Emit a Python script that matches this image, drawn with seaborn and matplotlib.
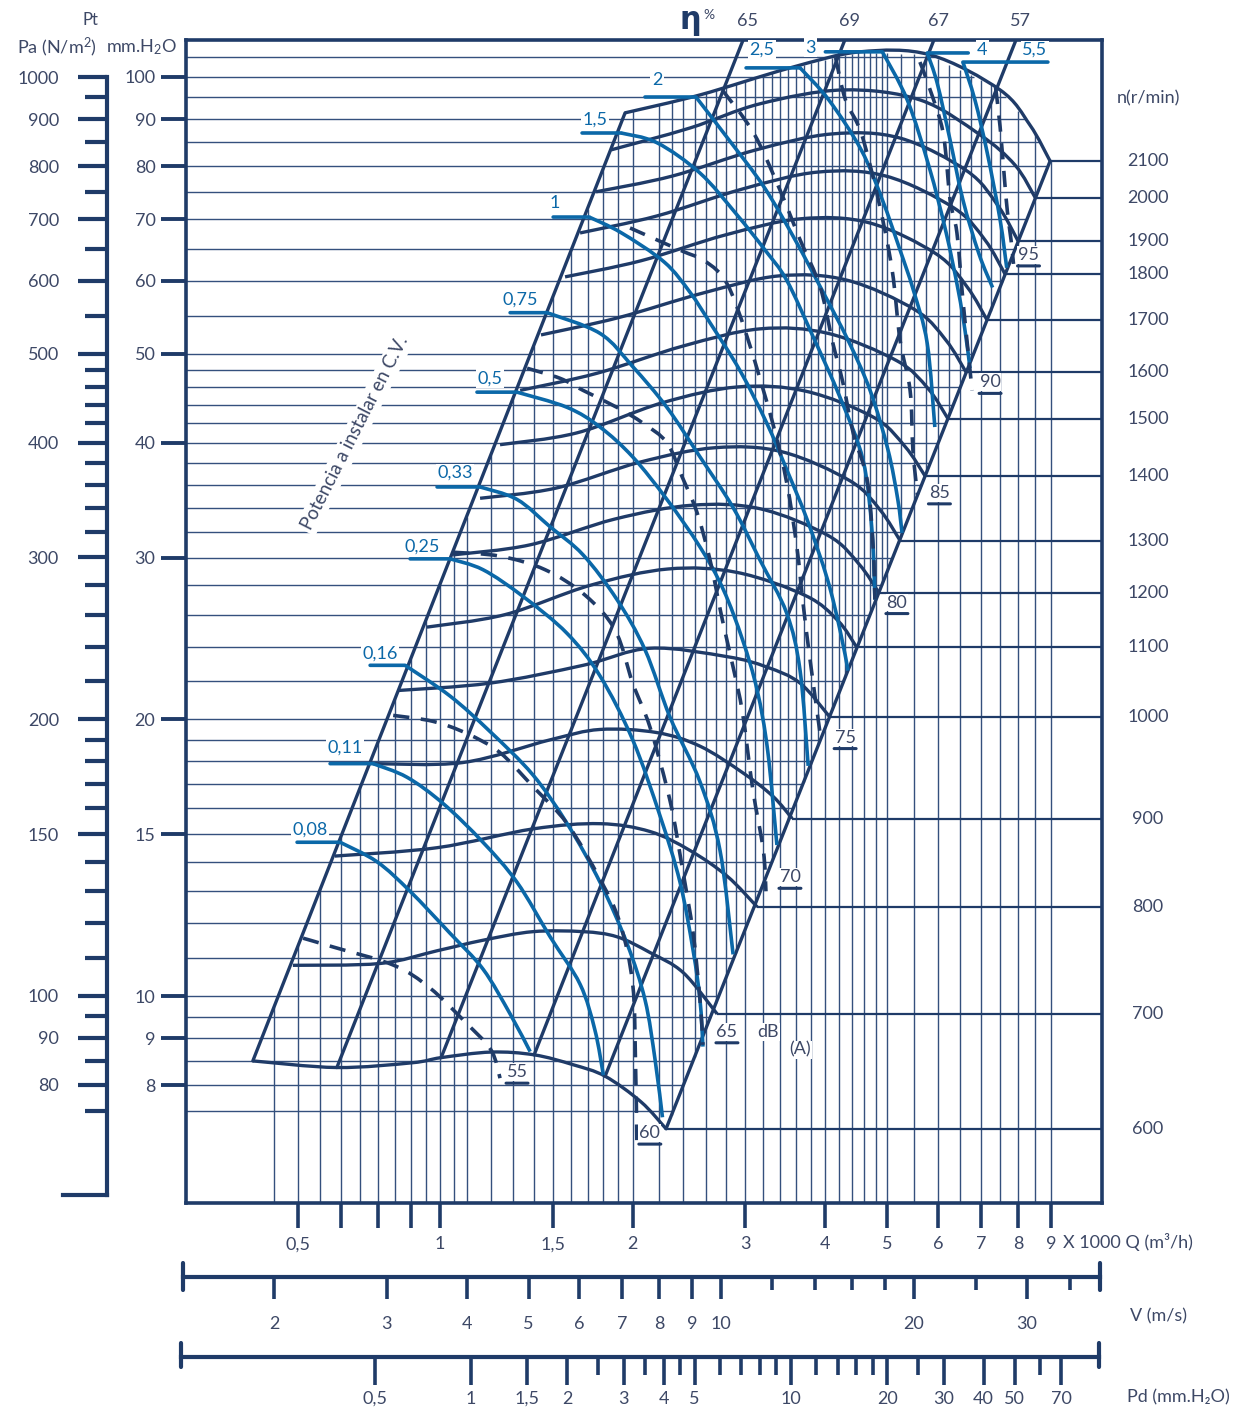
import numpy as np
import pandas as pd
import matplotlib
matplotlib.use("Agg")
import matplotlib.pyplot as plt
from matplotlib.ticker import FixedLocator, NullLocator, FixedFormatter
from matplotlib.transforms import offset_copy
from matplotlib.path import Path
from matplotlib.patches import PathPatch
import seaborn as sns

sns.set_theme(style="white")
plt.rcParams["font.family"] = ["Lato", "DejaVu Sans"]
plt.rcParams["mathtext.default"] = "regular"

NAVY = "#1f3b68"
GRID = "#34507d"
BLUE = "#0b68a8"
INK = "#3d4866"

# ---------------- fan curves: flow Q (x1000 m3/h) vs total pressure (mm H2O)
N600_Q = [0.510, 0.690, 0.904, 1.004, 1.201, 1.403, 1.613, 1.811, 2.061, 2.255]
N600_P = [8.50, 8.36, 8.46, 8.57, 8.69, 8.63, 8.42, 8.18, 7.67, 7.17]
N700_Q = [0.589, 0.806, 0.989, 1.167, 1.397, 1.673, 1.890, 2.129, 2.400, 2.710]
N700_P = [10.8, 10.85, 11.2, 11.5, 11.75, 11.75, 11.6, 11.15, 10.6, 9.56]
N800_Q = [0.685, 0.989, 1.397, 1.778, 2.129, 2.458, 2.810, 3.130]
N800_P = [14.2, 14.5, 15.2, 15.4, 15.1, 14.4, 13.5, 12.5]
N900_Q = [0.786, 1.086, 1.486, 1.778, 2.180, 2.548, 2.970, 3.310, 3.550]
N900_P = [17.9, 17.95, 19.0, 19.5, 19.35, 18.7, 17.5, 16.5, 15.6]
N1000_Q = [0.860, 1.197, 1.673, 2.129, 2.810, 3.240, 3.652, 4.068]
N1000_P = [21.5, 21.9, 22.9, 23.9, 23.4, 22.8, 21.9, 20.1]
N1100_Q = [0.954, 1.263, 1.722, 2.271, 2.911, 3.732, 4.187, 4.470]
N1100_P = [25.2, 26.0, 28.0, 29.15, 28.9, 27.25, 25.6, 24.0]
N1200_Q = [1.048, 1.383, 1.877, 2.476, 3.162, 4.040, 4.516, 4.852]
N1200_P = [30.2, 30.97, 33.04, 34.2, 33.9, 31.7, 29.5, 27.45]
N1300_Q = [1.155, 1.518, 2.054, 2.690, 3.422, 4.372, 4.870, 5.233]
N1300_P = [34.8, 35.7, 38.1, 39.5, 39.1, 36.35, 33.8, 31.3]
N1400_Q = [1.241, 1.637, 2.223, 2.921, 3.732, 4.765, 5.330, 5.725]
N1400_P = [39.8, 41.0, 44.2, 46.0, 45.5, 42.6, 39.6, 36.8]
N1500_Q = [1.334, 1.759, 2.397, 3.162, 4.040, 5.177, 5.789, 6.220]
N1500_P = [45.6, 47.6, 50.96, 53.2, 52.6, 49.1, 45.8, 42.45]
N1600_Q = [1.438, 1.897, 2.576, 3.386, 4.324, 5.523, 6.173, 6.633]
N1600_P = [52.4, 54.7, 58.2, 60.75, 60.1, 55.8, 51.7, 47.75]
N1700_Q = [1.568, 2.061, 2.788, 3.665, 4.680, 5.957, 6.660, 7.154]
N1700_P = [60.6, 63.1, 67.3, 70.1, 69.4, 64.2, 59.1, 54.4]
N1800_Q = [1.655, 2.183, 2.964, 3.896, 4.977, 6.356, 7.105, 7.636]
N1800_P = [67.65, 70.6, 75.5, 78.8, 78.0, 72.0, 66.45, 61.0]
N1900_Q = [1.753, 2.304, 3.116, 4.098, 5.233, 6.660, 7.445, 8.000]
N1900_P = [75.0, 78.0, 83.3, 86.7, 85.8, 79.0, 72.4, 66.3]
N2000_Q = [1.850, 2.458, 3.162, 4.264, 5.623, 6.978, 7.912, 8.510]
N2000_P = [83.3, 88.0, 93.5, 96.8, 94.4, 86.5, 80.2, 73.9]
N2100_Q = [1.946, 2.548, 3.523, 4.532, 5.829, 7.499, 8.354, 8.977]
N2100_P = [91.4, 95.6, 102.3, 106.5, 105.7, 96.8, 88.6, 81.0]

SPEEDS = [600, 700, 800, 900, 1000, 1100, 1200, 1300, 1400, 1500,
          1600, 1700, 1800, 1900, 2000, 2100]

# ---------------- constant-efficiency lines (efficiency %, lower and upper ends)
EFF_LABELS = ["", "65", "69", "67", "57", ""]
EFF_Q_LOW = [0.510, 0.690, 1.004, 1.403, 1.811, 2.255]
EFF_P_LOW = [8.50, 8.36, 8.57, 8.63, 8.18, 7.17]
EFF_Q_HIGH = [1.946, 2.975, 4.29, 5.91, 7.94, 8.977]
EFF_P_HIGH = [91.4, 109.7, 109.7, 109.7, 109.7, 81.0]

# ---------------- power to install (C.V.)
CV_LABELS = ["0,08", "0,11", "0,16", "0,25", "0,33", "0,5", "0,75",
             "1", "1,5", "2", "2,5", "3", "4", "5,5"]
CV008_Q = [0.698, 0.797, 0.898, 1.037, 1.167, 1.287, 1.383]
CV008_P = [14.7, 14.0, 13.0, 11.7, 10.7, 9.56, 8.70]
CV011_Q = [0.786, 0.888, 1.011, 1.167, 1.319, 1.486, 1.655, 1.746, 1.800]
CV011_P = [17.9, 17.3, 16.2, 14.7, 13.3, 11.6, 10.3, 9.18, 8.20]
CV016_Q = [0.882, 1.037, 1.197, 1.397, 1.580, 1.778, 1.960, 2.091, 2.168, 2.226]
CV016_P = [22.9, 21.2, 19.4, 17.4, 15.4, 13.3, 11.4, 9.90, 8.52, 7.38]
CV025_Q = [1.037, 1.167, 1.349, 1.580, 1.778, 2.000, 2.207, 2.371, 2.486, 2.548, 2.575]
CV025_P = [29.9, 29.1, 27.2, 24.8, 22.3, 19.0, 15.7, 13.3, 11.2, 9.90, 8.81]
CV033_Q = [1.155, 1.319, 1.486, 1.673, 1.890, 2.091, 2.288, 2.548, 2.738, 2.870]
CV033_P = [35.8, 34.7, 32.4, 30.2, 27.0, 23.8, 20.1, 17.1, 14.4, 11.1]
CV05_Q = [1.319, 1.580, 1.778, 2.000, 2.262, 2.548, 2.770, 2.970, 3.130, 3.250, 3.360]
CV05_P = [45.4, 43.7, 41.6, 38.6, 34.7, 30.8, 27.7, 24.4, 21.5, 18.5, 14.6]
CV075_Q = [1.470, 1.778, 2.000, 2.262, 2.548, 2.870, 3.162, 3.480, 3.652, 3.760]
CV075_P = [55.4, 52.6, 48.4, 43.7, 38.6, 34.0, 29.8, 26.1, 22.6, 17.8]
CV1_Q = [1.710, 1.918, 2.240, 2.458, 2.642, 2.943, 3.240, 3.480, 3.745, 4.030, 4.217, 4.340]
CV1_P = [70.4, 67.7, 62.9, 58.3, 54.0, 47.9, 42.0, 37.4, 33.0, 28.4, 25.0, 22.6]
CV15_Q = [1.918, 2.183, 2.548, 2.900, 3.220, 3.480, 3.830, 4.217, 4.580, 4.730, 4.780]
CV15_P = [86.9, 84.8, 78.6, 71.0, 64.8, 60.1, 52.1, 44.8, 38.3, 32.1, 27.0]
CV2_Q = [2.511, 2.828, 3.208, 3.587, 3.953, 4.340, 4.698, 5.010, 5.190, 5.270]
CV2_P = [95.1, 85.4, 75.9, 66.5, 58.6, 51.7, 45.6, 39.3, 34.7, 31.9]
CV25_Q = [3.652, 4.050, 4.550, 4.910, 5.233, 5.490, 5.770, 5.930]
CV25_P = [102.3, 94.4, 83.3, 73.5, 64.8, 58.6, 51.3, 41.6]
CV3_Q = [4.910, 5.370, 5.810, 6.170, 6.450, 6.610, 6.730]
CV3_P = [106.5, 94.4, 79.8, 67.9, 58.6, 53.0, 48.2]
CV4_Q = [5.770, 5.980, 6.264, 6.560, 6.950, 7.300]
CV4_P = [106.2, 98.5, 85.4, 73.5, 64.2, 59.0]
CV55_Q = [6.560, 6.850, 7.160, 7.500, 7.680]
CV55_P = [103.8, 94.4, 82.7, 69.9, 62.0]

# ---------------- sound level dB(A)
DB_LABELS = ["55", "60", "65", "70", "75", "80", "85", "90", "95"]
DB55_Q = [0.611, 0.683, 0.847, 0.965, 1.098, 1.201, 1.241]
DB55_P = [11.56, 11.3, 10.8, 10.2, 9.35, 8.74, 8.14]
DB60_Q = [0.845, 0.975, 1.102, 1.241, 1.397, 1.580, 1.778, 1.911, 2.000, 2.020, 2.030]
DB60_P = [20.2, 19.9, 19.3, 18.4, 16.9, 15.4, 13.4, 12.0, 10.3, 8.52, 6.97]
DB65_Q = [1.048, 1.241, 1.459, 1.685, 1.878, 2.000, 2.129, 2.288, 2.390, 2.486, 2.548, 2.575]
DB65_P = [30.4, 30.1, 29.1, 27.3, 25.0, 21.9, 19.6, 16.3, 13.8, 11.7, 9.90, 8.85]
DB70_Q = [1.368, 1.540, 1.673, 1.890, 2.076, 2.262, 2.390, 2.520, 2.642, 2.760, 2.870, 2.970, 3.080, 3.200, 3.230]
DB70_P = [48.2, 47.0, 45.6, 43.7, 42.0, 40.0, 36.7, 33.6, 29.8, 25.7, 22.8, 20.3, 16.8, 14.4, 13.0]
DB75_Q = [1.981, 2.371, 2.598, 2.807, 3.020, 3.310, 3.480, 3.610, 3.690, 3.786, 3.925]
DB75_P = [68.5, 64.8, 63.0, 59.6, 52.1, 42.0, 36.2, 30.8, 26.8, 23.2, 19.3]
DB80_Q = [2.760, 3.090, 3.398, 3.652, 3.925, 4.110, 4.260, 4.420, 4.650, 4.750, 4.780]
DB80_P = [96.8, 86.9, 75.3, 66.5, 59.1, 51.3, 46.5, 41.0, 36.4, 30.8, 27.0]
DB85_Q = [4.150, 4.300, 4.550, 4.840, 5.085, 5.233, 5.425, 5.480, 5.570]
DB85_P = [104.9, 94.4, 86.9, 73.5, 61.7, 51.7, 45.6, 39.3, 35.1]
DB90_Q = [5.620, 5.810, 6.110, 6.264, 6.420, 6.560, 6.680, 6.780]
DB90_P = [103.8, 97.5, 86.9, 73.5, 67.7, 57.2, 50.5, 45.6]
DB95_Q = [7.380, 7.500, 7.620, 7.700, 7.800, 7.870]
DB95_P = [97.3, 88.2, 77.3, 71.3, 66.5, 62.6]

# ---------------- scales
Q_TICKS = [0.6, 0.7, 0.8, 0.9, 1, 1.5, 2, 3, 4, 5, 6, 7, 8, 9]
Q_TICK_LABELS = ["0,5", "", "", "", "1", "1,5", "2", "3", "4", "5", "6", "7", "8", "9"]
MM_TICKS = [8, 9, 10, 15, 20, 30, 40, 50, 60, 70, 80, 90, 100]
PA_TICKS = [80, 90, 100, 150, 200, 300, 400, 500, 600, 700, 800, 900, 1000]
PA_MINOR = [75, 85, 95, 110, 120, 130, 140, 160, 170, 180, 190, 220, 240, 260, 280,
            320, 340, 360, 380, 420, 440, 460, 480, 550, 650, 750, 850, 950]
V_TICKS = [2, 3, 4, 5, 6, 7, 8, 9, 10, 20, 30]
V_MINOR = [12, 14, 16, 18, 25, 35]
PD_TICKS = [0.5, 1, 1.5, 2, 3, 4, 5, 10, 20, 30, 40, 50, 70]
PD_TICK_LABELS = ["0,5", "1", "1,5", "2", "3", "4", "5", "10", "20", "30", "40", "50", "70"]
PD_MINOR = [2.5, 3.5, 4.5, 6, 7, 8, 9, 12, 14, 16, 18, 25, 60]

P_GRID = [105, 100, 95, 90, 85, 80, 75, 70, 65, 60, 55, 50, 48, 46, 44, 42, 40, 38, 36,
          34, 32, 30, 28, 26, 24, 22, 20, 19, 18, 17, 16, 15, 14, 13, 12, 11, 10,
          9.5, 9, 8.5, 8, 7.5]
Q_GRID = [0.55, 0.6, 0.65, 0.7, 0.75, 0.8, 0.85, 0.9, 0.95, 1.0, 1.05,
          1.1, 1.2, 1.3, 1.4, 1.5, 1.6, 1.7, 1.8, 1.9, 2.0,
          2.2, 2.4, 2.6, 2.8, 3.0, 3.2, 3.4, 3.6, 3.8, 4.0, 4.2, 4.4, 4.6, 4.8, 5.0,
          5.5, 6.0, 6.5, 7.0, 7.5, 8.0, 8.5, 9.0]
Q_GRID_INNER = [2.3, 2.5, 2.7, 2.9, 3.1, 3.3, 3.5, 3.7, 3.9, 4.1, 4.3, 4.5, 4.7, 4.9,
                5.25, 5.75, 6.25, 6.75, 7.25]

# ---------------- figure layout
W, H = 1244, 1407
fig = plt.figure(figsize=(W / 100, H / 100), dpi=100)
fig.patch.set_facecolor("white")
K = 0.72  # points per pixel at 100 dpi


def box(x0, y0, x1, y1):
    return [x0 / W, 1 - y1 / H, (x1 - x0) / W, (y1 - y0) / H]


ax = fig.add_axes(box(186, 40, 1102, 1203))
ax.set_xscale("log")
ax.set_yscale("log")
XMIN, XMAX = 0.401, 10.82
YMIN, YMAX = 5.954, 109.7
ax.set_xlim(XMIN, XMAX)
ax.set_ylim(YMIN, YMAX)
ax.set_facecolor("white")


def loginterp(x, xs, ys):
    return 10 ** np.interp(np.log10(x), np.log10(xs), np.log10(ys))


def smooth_curve(q, p, color, lw, ls="-", z=3):
    """Draw a smooth stroke through the given points (cubic segments on the log axes)."""
    pts = np.column_stack([np.log10(q), np.log10(p)])
    n = len(pts)
    verts, codes = [pts[0]], [Path.MOVETO]
    for i in range(n - 1):
        p0 = pts[i - 1] if i > 0 else pts[i]
        p1, p2 = pts[i], pts[i + 1]
        p3 = pts[i + 2] if i + 2 < n else pts[i + 1]
        verts += [p1 + (p2 - p0) / 6.0, p2 - (p3 - p1) / 6.0, p2]
        codes += [Path.CURVE4] * 3
    path = Path(10 ** np.array(verts), codes)
    ax.add_patch(PathPatch(path, fill=False, edgecolor=color, lw=lw, linestyle=ls,
                           joinstyle="round", capstyle="butt", zorder=z))


def offset_segment(q, p, a, b, color, lw):
    """Short decoration stroke between two pixel offsets from a data point."""
    t1 = offset_copy(ax.transData, fig=fig, x=a[0] * K, y=a[1] * K, units="points")
    t2 = offset_copy(ax.transData, fig=fig, x=b[0] * K, y=b[1] * K, units="points")
    ax.annotate("", xy=(q, p), xycoords=t1, xytext=(q, p), textcoords=t2,
                arrowprops=dict(arrowstyle="-", color=color, lw=lw, shrinkA=0, shrinkB=0),
                annotation_clip=False, zorder=5)


fan_q = [globals()[f"N{n}_Q"] for n in SPEEDS]
fan_p = [globals()[f"N{n}_P"] for n in SPEEDS]

# envelopes of the operating field
top_q = [N600_Q[0]] + N2100_Q
top_p = [N600_P[0]] + N2100_P
peak = int(np.argmax(N2100_P))
right_p = [N600_P[-1]] + N2100_P[peak:][::-1]
right_q = [N600_Q[-1]] + N2100_Q[peak:][::-1]
d5_q = [EFF_Q_LOW[-1], EFF_Q_HIGH[-1]]
d5_p = [EFF_P_LOW[-1], EFF_P_HIGH[-1]]

# grid
for p in P_GRID:
    ax.hlines(p, XMIN, loginterp(p, right_p, right_q), color=GRID, lw=1.0, zorder=1)
for q in Q_GRID:
    ax.vlines(q, YMIN, loginterp(q, top_q, top_p), color=GRID, lw=1.0, zorder=1)
for q in Q_GRID_INNER:
    ax.vlines(q, loginterp(q, d5_q, d5_p), loginterp(q, top_q, top_p), color=GRID, lw=1.0, zorder=1)

# speed curves and their lines towards the right-hand scale
for n, q, p in zip(SPEEDS, fan_q, fan_p):
    ax.hlines(p[-1], q[-1], XMAX, color=NAVY, lw=1.6, zorder=2)
    ax.annotate(str(n), xy=(1.0, p[-1]), xycoords=("axes fraction", "data"),
                xytext=(33, 0), textcoords="offset points", ha="center", va="center",
                fontsize=13, color=INK)
    smooth_curve(q, p, NAVY, 2.4)

# efficiency lines
eff_df = pd.concat([pd.DataFrame({"Q": [a, b], "P": [c, d], "k": i})
                    for i, (a, b, c, d) in enumerate(zip(EFF_Q_LOW, EFF_Q_HIGH, EFF_P_LOW, EFF_P_HIGH))],
                   ignore_index=True)
sns.lineplot(data=eff_df, x="Q", y="P", units="k", estimator=None, sort=False,
             color=NAVY, lw=2.4, ax=ax, legend=False, zorder=3)
for lab, q in zip(EFF_LABELS, EFF_Q_HIGH):
    if lab:
        ax.annotate(lab, xy=(q, YMAX), xytext=(3, 14), textcoords="offset points",
                    ha="center", va="center", fontsize=13, color=INK, annotation_clip=False)

# power lines
cv_names = ["CV008", "CV011", "CV016", "CV025", "CV033", "CV05", "CV075",
            "CV1", "CV15", "CV2", "CV25", "CV3", "CV4", "CV55"]
cv_q = [globals()[c + "_Q"] for c in cv_names]
cv_p = [globals()[c + "_P"] for c in cv_names]
for q, p in zip(cv_q, cv_p):
    smooth_curve(q, p, BLUE, 2.6, z=4)

tab_px = [-43, -43, -35, -40, -43, -40, -37, -36, -39, -51, -54, -57, 41, 85]
text_px = [(-30, 13), (-28, 16), (-25, 12), (-28, 12), (-25, 14), (-27, 14), (-27, 13),
           (-34, 14), (-26, 13), (-39, 17), (-38, 18), (-72, 4), (55, 3), (72, 12)]
for lab, q, p, t, (dx, dy) in zip(CV_LABELS, cv_q, cv_p, tab_px, text_px):
    offset_segment(q[0], p[0], (0, 0), (t, 0), BLUE, 2.6)
    ax.annotate(lab, xy=(q[0], p[0]), xytext=(dx * K, dy * K), textcoords="offset points",
                ha="center", va="center", fontsize=13, color=BLUE, zorder=5,
                bbox=dict(boxstyle="square,pad=0.08", fc="white", ec="none"))

# noise lines
db_q = [globals()[f"DB{d}_Q"] for d in DB_LABELS]
db_p = [globals()[f"DB{d}_P"] for d in DB_LABELS]
for q, p in zip(db_q, db_p):
    smooth_curve(q, p, NAVY, 2.6, ls=(0, (4.5, 3.2)), z=4)
db_off = [(17, 6), (13, 7), (24, 13), (24, 14), (25, -4), (22, -3), (22, 2), (18, 8), (15, 9)]
for lab, q, p, (dx, dy) in zip(DB_LABELS, db_q, db_p, db_off):
    ax.annotate(lab, xy=(q[-1], p[-1]), xytext=(dx * K, dy * K), textcoords="offset points",
                ha="center", va="center", fontsize=13, color=INK, zorder=5,
                bbox=dict(boxstyle="square,pad=0.05", fc="white", ec="none"))
    offset_segment(q[-1], p[-1], (dx - 11, dy - 11), (dx + 11, dy - 11), NAVY, 2.2)
ax.annotate("dB", xy=(DB65_Q[-1], DB65_P[-1]), xytext=(65 * K, 13 * K), textcoords="offset points",
            ha="center", va="center", fontsize=13, color=INK,
            bbox=dict(boxstyle="square,pad=0.05", fc="white", ec="none"))
ax.annotate("(A)", xy=(DB65_Q[-1], DB65_P[-1]), xytext=(97 * K, -5 * K), textcoords="offset points",
            ha="center", va="center", fontsize=13, color=INK,
            bbox=dict(boxstyle="square,pad=0.05", fc="white", ec="none"))

ax.text((355 - 186) / 916, (1203 - 433) / 1163, "Potencia a instalar en C.V.",
        transform=ax.transAxes, rotation=63, ha="center", va="center", fontsize=13.5,
        color=INK, bbox=dict(boxstyle="square,pad=0.15", fc="white", ec="none"), zorder=5)

# axes styling
ax.set_xlim(XMIN, XMAX)
ax.set_ylim(YMIN, YMAX)
ax.set_xlabel("")
ax.set_ylabel("")
for s in ax.spines.values():
    s.set_color(NAVY)
    s.set_linewidth(2.6)
ax.xaxis.set_major_locator(FixedLocator(Q_TICKS))
ax.xaxis.set_major_formatter(FixedFormatter(Q_TICK_LABELS))
ax.xaxis.set_minor_locator(NullLocator())
ax.yaxis.set_major_locator(FixedLocator(MM_TICKS))
ax.yaxis.set_major_formatter(FixedFormatter([str(v) for v in MM_TICKS]))
ax.yaxis.set_minor_locator(NullLocator())
ax.tick_params(axis="x", direction="out", length=18, width=2.6, color=NAVY, pad=6,
               labelsize=13, labelcolor=INK, bottom=True)
ax.tick_params(axis="y", direction="out", length=18, width=2.8, color=NAVY, pad=4,
               labelsize=13, labelcolor=INK, left=True, right=False)
ax.text((1063 - 186) / 916, (1203 - 1242) / 1163, "X 1000 Q (m³/h)", transform=ax.transAxes,
        ha="left", va="center", fontsize=13, color=INK)
ax.text((1148 - 186) / 916, (1203 - 98) / 1163, "n(r/min)", transform=ax.transAxes,
        ha="center", va="center", fontsize=13, color=INK)

# Pa scale
axp = fig.add_axes(box(63, 77, 107, 1195))
axp.set_yscale("log")
axp.set_ylim(60.72, 1000)
axp.set_xlim(0, 1)
axp.set_facecolor("none")
for side in ["left", "top"]:
    axp.spines[side].set_visible(False)
for side in ["right", "bottom"]:
    axp.spines[side].set_color(NAVY)
    axp.spines[side].set_linewidth(3.0)
axp.xaxis.set_visible(False)
axp.yaxis.set_major_locator(FixedLocator(PA_TICKS))
axp.yaxis.set_major_formatter(FixedFormatter([str(v) for v in PA_TICKS]))
axp.yaxis.set_minor_locator(FixedLocator(PA_MINOR))
axp.yaxis.set_minor_formatter(FixedFormatter([""] * len(PA_MINOR)))
axp.tick_params(axis="y", which="major", left=False, right=True, labelleft=True, labelright=False,
                direction="in", length=21, width=3.0, color=NAVY, pad=3, labelsize=13, labelcolor=INK)
axp.tick_params(axis="y", which="minor", left=False, right=True, direction="in",
                length=16, width=3.0, color=NAVY)

# velocity scale
axv = fig.add_axes(box(183, 1277, 1100, 1310))
axv.set_xscale("log")
axv.set_xlim(1.441, 39.06)
axv.set_facecolor("none")
for side in ["left", "right", "bottom"]:
    axv.spines[side].set_visible(False)
axv.spines["top"].set_color(NAVY)
axv.spines["top"].set_linewidth(3.0)
axv.yaxis.set_visible(False)
axv.xaxis.set_major_locator(FixedLocator(V_TICKS))
axv.xaxis.set_major_formatter(FixedFormatter([str(v) for v in V_TICKS]))
axv.xaxis.set_minor_locator(FixedLocator(V_MINOR))
axv.xaxis.set_minor_formatter(FixedFormatter([""] * len(V_MINOR)))
axv.tick_params(axis="x", which="major", top=True, bottom=False, labeltop=False, labelbottom=True,
                direction="in", length=16, width=2.6, color=NAVY, pad=4, labelsize=13, labelcolor=INK)
axv.tick_params(axis="x", which="minor", top=True, bottom=False, direction="in",
                length=9, width=2.6, color=NAVY)
for xv in axv.get_xlim():
    axv.axvline(xv, ymin=0.6, ymax=1.42, color=NAVY, lw=3.0, clip_on=False)
axv.text((1130 - 183) / 917, (1310 - 1316) / 33, "V (m/s)", transform=axv.transAxes,
         ha="left", va="center", fontsize=13, color=INK)

# dynamic pressure scale
axd = fig.add_axes(box(181, 1357, 1099, 1385))
axd.set_xscale("log")
axd.set_xlim(0.1241, 91.72)
axd.set_facecolor("none")
for side in ["left", "right", "bottom"]:
    axd.spines[side].set_visible(False)
axd.spines["top"].set_color(NAVY)
axd.spines["top"].set_linewidth(3.0)
axd.yaxis.set_visible(False)
axd.xaxis.set_major_locator(FixedLocator(PD_TICKS))
axd.xaxis.set_major_formatter(FixedFormatter(PD_TICK_LABELS))
axd.xaxis.set_minor_locator(FixedLocator(PD_MINOR))
axd.xaxis.set_minor_formatter(FixedFormatter([""] * len(PD_MINOR)))
axd.tick_params(axis="x", which="major", top=True, bottom=False, labeltop=False, labelbottom=True,
                direction="in", length=20, width=2.6, color=NAVY, pad=4, labelsize=13, labelcolor=INK)
axd.tick_params(axis="x", which="minor", top=True, bottom=False, direction="in",
                length=13, width=2.6, color=NAVY)
for xv in axd.get_xlim():
    axd.axvline(xv, ymin=0.64, ymax=1.5, color=NAVY, lw=3.0, clip_on=False)
axd.text((1127 - 181) / 918, (1385 - 1397) / 28, "Pd (mm.H₂O)", transform=axd.transAxes,
         ha="left", va="center", fontsize=13, color=INK)

# unit headings
fig.text(90 / W, 1 - 20 / H, "Pt", ha="center", va="center", fontsize=12, color=INK)
fig.text(57 / W, 1 - 47 / H, "Pa (N/m$^2$)", ha="center", va="center", fontsize=13, color=INK)
fig.text(142 / W, 1 - 47 / H, "mm.H$_2$O", ha="center", va="center", fontsize=13, color=INK)
fig.text(690 / W, 1 - 22 / H, "η", ha="center", va="center", fontsize=22, fontweight="bold",
         color=NAVY, family="DejaVu Sans")
fig.text(709 / W, 1 - 15 / H, "%", ha="center", va="center", fontsize=10, color=INK)

fig.savefig("out.png", dpi=100, facecolor="white")
